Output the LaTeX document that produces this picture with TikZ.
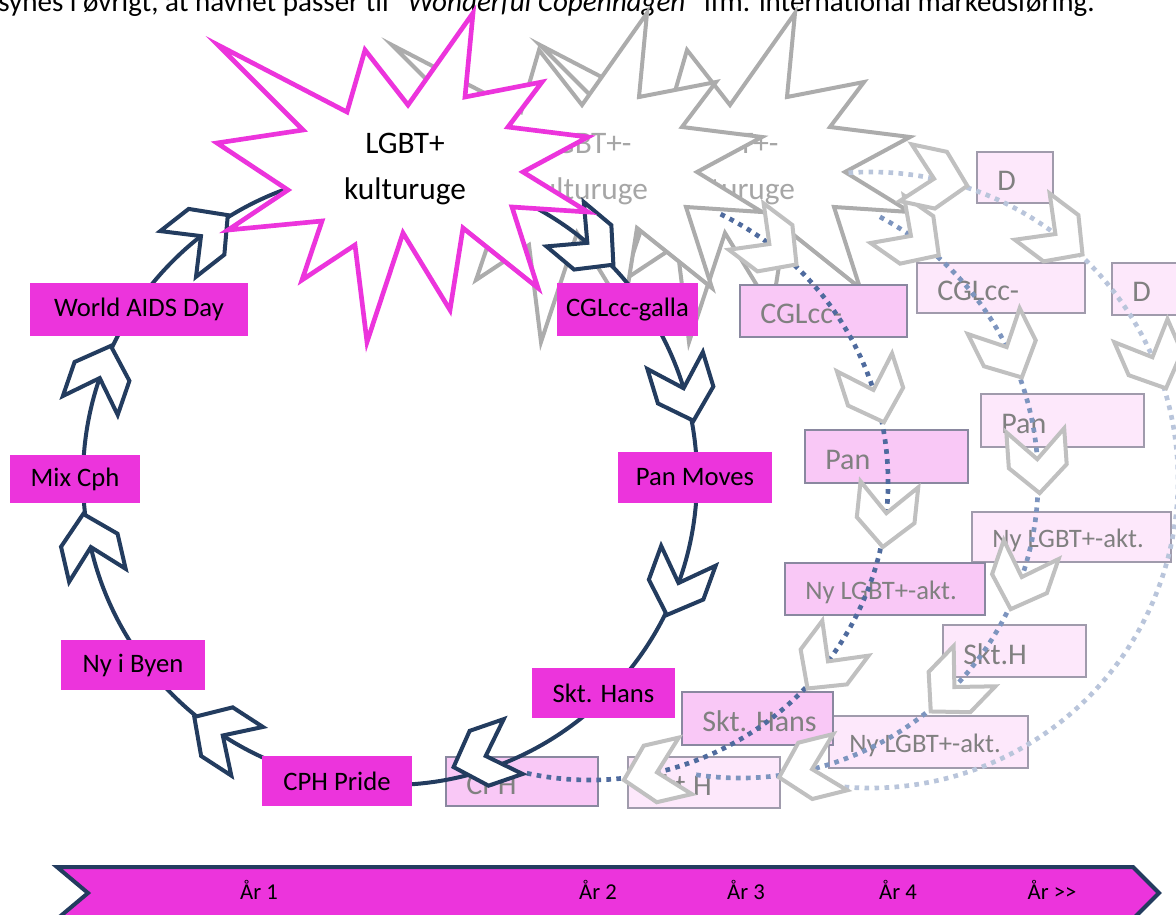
\documentclass[tikz,border=0pt]{standalone}
\usepackage{fontspec}
\setmainfont{Carlito}
\definecolor{navy}{RGB}{35,60,95}
\definecolor{mag}{RGB}{236,52,220}
\definecolor{gstroke}{RGB}{172,172,172}
\definecolor{gfont}{RGB}{166,166,166}
\definecolor{chevgray}{RGB}{192,192,192}
\definecolor{pinkA}{RGB}{249,200,246}
\definecolor{pinkB}{RGB}{253,232,251}
\definecolor{edgeA}{RGB}{138,136,160}
\definecolor{edgeB}{RGB}{160,155,172}
\definecolor{boxtxt}{RGB}{128,128,128}
\definecolor{dotA}{RGB}{79,107,158}
\definecolor{dotB}{RGB}{125,149,191}
\definecolor{dotC}{RGB}{185,197,219}
\newcommand\burst{(218,45) -- (347,112) -- (365,50) -- (408,105) -- (473,13) -- (465,97) -- (542,82) -- (508,127) -- (588,137) -- (523,172) -- (588,212) -- (512,207) -- (538,288) -- (463,228) -- (450,310) -- (403,233) -- (367,342) -- (355,245) -- (302,280) -- (322,221) -- (228,230) -- (288,190) -- (217,143) -- (303,130) -- cycle}
\tikzset{every node/.style={inner sep=0pt}}
\tikzset{mbox/.style={rectangle,fill=mag,font=\fontsize{20}{24}\selectfont}}
\tikzset{gbox/.style={draw=edgeA,fill=pinkA,line width=1.5pt}}
\tikzset{lbox/.style={draw=edgeB,fill=pinkB,line width=1.5pt}}
\tikzset{gtxt/.style={anchor=west,text=boxtxt,font=\fontsize{22.5}{26}\selectfont}}
\tikzset{gstar/.style={draw=gstroke,fill=white,line width=3pt}}
\tikzset{startxt/.style={align=center,font=\fontsize{23.5}{34}\selectfont}}
\tikzset{ring/.style={draw=navy,line width=3pt}}
\tikzset{dots/.style={line width=3.5pt,dash pattern=on 3.5pt off 4pt}}
\tikzset{mchev/.style={draw=navy,fill=white,line width=3pt}}
\tikzset{gchev/.style={draw=chevgray,fill=white,line width=3pt}}
\tikzset{chev/.pic={\draw[#1] (-29,-29) -- (0,0) -- (-29,29) -- (7,29) -- (34,0) -- (7,-29) -- cycle;}}
\tikzset{bartxt/.style={font=\fontsize{17}{20}\selectfont}}
\newcommand\nyakt{{\fontsize{20}{24}\selectfont Ny LGBT+-akt.}}

\begin{document}
\begin{tikzpicture}[x=0.75pt,y=-0.75pt]
  \useasboundingbox (0,0) rectangle (1176,914);
  \clip (0,0) rectangle (1176,914);
  \node[anchor=base west,font=\fontsize{21.8}{26}\selectfont] (intro) at (-2,11) {synes i øvrigt, at navnet passer til “\textit{Wonderful Copenhagen}” ifm. international markedsføring.};

  \coordinate (main) at (390,478);
  \coordinate (y2) at (590,482);
  \coordinate (y3) at (740,480);
  \coordinate (y4) at (870,480);

  \draw[gstar,shift={(322,0)}] \burst;
  \node[startxt,text=gfont] (star3) at (734,169) {LGBT+-\\kulturuge};
  \draw[gstar,shift={(174,0)}] \burst;
  \node[startxt,text=gfont] (star2) at (587,169) {LGBT+-\\kulturuge};

  \foreach \xa/\ya/\xb/\yb/\t [count=\i] in {977/152/1053/203/D, 917/263/1085/313/CGLcc-, 1112/263/1190/315/D,
      981/394/1144/447/Pan, 972/512/1171/562/\nyakt, 943/625/1086/677/Skt.H,
      829/716/1028/768/\nyakt, 628/757/780/808/Skt.H}
  {
    \draw[lbox] (\xa,\ya) rectangle (\xb,\yb);
    \node[gtxt] (lt\i) at ({\xa+20},{(\ya+\yb)/2+3}) {\t};
  }
  \foreach \xa/\ya/\xb/\yb/\t [count=\i] in {740/285/907/337/CGLcc-, 805/430/968/483/Pan,
      785/563/985/615/\nyakt, 682/692/833/745/Skt. Hans, 446/757/598/806/CPH}
  {
    \draw[gbox] (\xa,\ya) rectangle (\xb,\yb);
    \node[gtxt] (gt\i) at ({\xa+20},{(\ya+\yb)/2+3}) {\t};
  }

  \draw[dots,dotC] (y4) ++(-94:308) arc[start angle=-94,end angle=107,radius=308];
  \draw[dots,dotB] (y3) ++(-62:298) arc[start angle=-62,end angle=99,radius=298];
  \draw[dots,dotA] (y2) ++(-64:298) arc[start angle=-64,end angle=103,radius=298];

  \foreach \c/\r/\a in {y2/298/53, y2/298/18, y2/298/-6, y2/298/-37, y2/298/-77,
      y3/298/55, y3/298/26.5, y3/298/4, y3/298/-19, y3/298/-44, y3/298/-76,
      y4/308/78, y4/308/53, y4/308/23.5}
    \path (\c) ++({-(\a)}:\r) pic[rotate=\a-90] {chev=gchev};

  \draw[ring] (main) circle[radius=307];
  \foreach \a/\r in {128/307,161/307,193/307,237/307,289/294,340/307,17/307,50/307}
    \path (main) ++({-(\a)}:\r) pic[rotate=\a-90] {chev=mchev};

  \draw[draw=mag,fill=white,line width=3.5pt] \burst;
  \node[startxt] (kultur) at (405,169) {LGBT+\\kulturuge};

  \node[mbox,minimum width=163.5pt,minimum height=39.75pt] (aids) at (139,309.5) {World AIDS Day};
  \node[mbox,minimum width=105.75pt,minimum height=39.75pt] (galla) at (627.5,309.5) {CGLcc-galla};
  \node[mbox,minimum width=97.5pt,minimum height=36pt] (mix) at (75,479) {Mix Cph};
  \node[mbox,minimum width=115.5pt,minimum height=38.25pt] (pan) at (695,477.5) {Pan Moves};
  \node[mbox,minimum width=108pt,minimum height=37.5pt] (byen) at (133,665) {Ny i Byen};
  \node[mbox,minimum width=107.25pt,minimum height=37.5pt] (hans) at (603.5,693) {Skt. Hans};
  \node[mbox,minimum width=112.5pt,minimum height=37.5pt] (pride) at (337,781) {CPH Pride};

  \draw[draw=navy,fill=mag,line width=3pt] (57,867) -- (1133,867) -- (1159,893) -- (1133,919) -- (57,919) -- (88,893) -- cycle;
  \foreach \x/\t [count=\i] in {259/År 1, 598/År 2, 746/År 3, 898/År 4, 1052/År >\kern0pt>}
    \node[bartxt] (yr\i) at (\x,890) {\t};
\end{tikzpicture}
\end{document}
